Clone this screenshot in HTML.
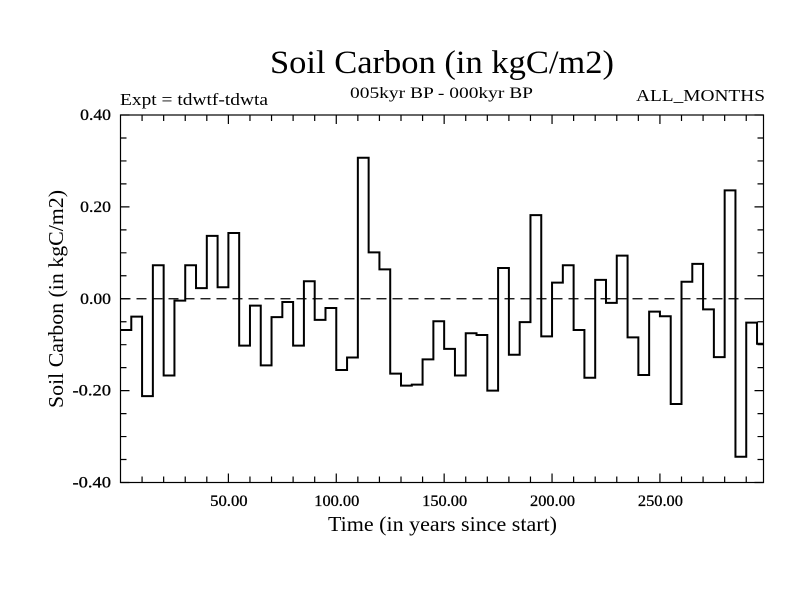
<!DOCTYPE html>
<html><head><meta charset="utf-8"><style>
body{margin:0;background:#fff}
svg text{font-family:"Liberation Serif",serif;fill:#000}
</style></head><body>
<svg id="chart" width="800" height="600" xmlns="http://www.w3.org/2000/svg">
<rect width="800" height="600" fill="#fff"/>
<text x="442" y="73" font-size="33" text-anchor="middle" textLength="344" lengthAdjust="spacingAndGlyphs">Soil Carbon (in kgC/m2)</text>
<text x="120" y="105" font-size="17" textLength="148" lengthAdjust="spacingAndGlyphs">Expt = tdwtf-tdwta</text>
<text x="441.5" y="98" font-size="16" text-anchor="middle" textLength="183" lengthAdjust="spacingAndGlyphs">005kyr BP - 000kyr BP</text>
<text x="765" y="101" font-size="17" text-anchor="end" textLength="129" lengthAdjust="spacingAndGlyphs">ALL_MONTHS</text>
<text x="442.5" y="531" font-size="21" text-anchor="middle" textLength="229" lengthAdjust="spacingAndGlyphs">Time (in years since start)</text>
<text transform="translate(63,299) rotate(-90)" font-size="21" text-anchor="middle" textLength="218" lengthAdjust="spacingAndGlyphs">Soil Carbon (in kgC/m2)</text>
<g id="axes"></g>
<g id="series"></g>
</svg>
<script>
const yValues=[-0.068,-0.039,-0.212,0.073,-0.167,-0.004,0.073,0.023,0.137,0.025,0.143,-0.102,-0.015,-0.145,-0.040,-0.007,-0.102,0.038,-0.046,-0.020,-0.155,-0.128,0.307,0.101,0.064,-0.163,-0.189,-0.187,-0.132,-0.049,-0.109,-0.167,-0.075,-0.079,-0.200,0.067,-0.122,-0.051,0.182,-0.082,0.035,0.073,-0.068,-0.172,0.041,-0.009,0.094,-0.084,-0.166,-0.028,-0.038,-0.229,0.037,0.076,-0.023,-0.127,0.236,-0.344,-0.052,-0.098];
const stepYears=[5];
const xTickValues=[50,100,150,200,250];
const xTickLabels=["50.00","100.00","150.00","200.00","250.00"];
const yTickValues=[0.4,0.2,0,-0.2,-0.4];
const yTickLabels=["0.40","0.20","0.00","-0.20","-0.40"];
const X0=120.5,X1=763.5,Y0=115,Y1=482.5,XMIN=0,XMAX=298,YMIN=-0.4,YMAX=0.4;
const sx=v=>X0+(v-XMIN)/(XMAX-XMIN)*(X1-X0);
const sy=v=>Y1-(v-YMIN)/(YMAX-YMIN)*(Y1-Y0);
const NS="http://www.w3.org/2000/svg";
function mk(tag,attrs,parent){const e=document.createElementNS(NS,tag);for(const k in attrs)e.setAttribute(k,attrs[k]);parent.appendChild(e);return e;}
const axes=document.getElementById('axes');
const frame=mk('rect',{x:X0,y:Y0,width:X1-X0,height:Y1-Y0,fill:'none',stroke:'#000','stroke-width':1.2},axes);


const zl=mk('line',{x1:X0,x2:X1,y1:sy(0),y2:sy(0),stroke:'#000','stroke-width':1.2,'stroke-dasharray':'10,6'},axes);


let d='';
for(let v=10;v<XMAX;v+=10){const x=sx(v);const L=(v%50===0)?9:6;d+=`M${x},${Y1}v${-L}M${x},${Y0}v${L}`;}
for(let i=-8;i<=8;i++){const v=i*0.05;const y=sy(v);const L=(i%4===0)?9:6;d+=`M${X0},${y}h${L}M${X1},${y}h${-L}`;}
const ticks=mk('path',{d:d,stroke:'#000','stroke-width':1.2,fill:'none'},axes);


xTickValues.forEach((v,i)=>{const t=mk('text',{x:sx(v)+0.5,y:506,'font-size':16,'text-anchor':'middle',textLength:xTickLabels[i].length*7.5,lengthAdjust:'spacingAndGlyphs',stroke:'#000','stroke-width':0.3},axes);t.textContent=xTickLabels[i];

});
yTickValues.forEach((v,i)=>{const t=mk('text',{x:111,y:sy(v)+5,'font-size':16,'text-anchor':'end',textLength:yTickLabels[i].length*7.7,lengthAdjust:'spacingAndGlyphs',stroke:'#000','stroke-width':0.3},axes);t.textContent=yTickLabels[i];

});
let p='';
yValues.forEach((v,i)=>{const a=Math.max(XMIN,i*stepYears[0]),b=Math.min(XMAX,(i+1)*stepYears[0]);p+=(i===0?'M':'L')+sx(a)+','+sy(v)+'L'+sx(b)+','+sy(v);});
const line=mk('path',{d:p,stroke:'#000','stroke-width':2,fill:'none'},document.getElementById('series'));


</script>
</body></html>
